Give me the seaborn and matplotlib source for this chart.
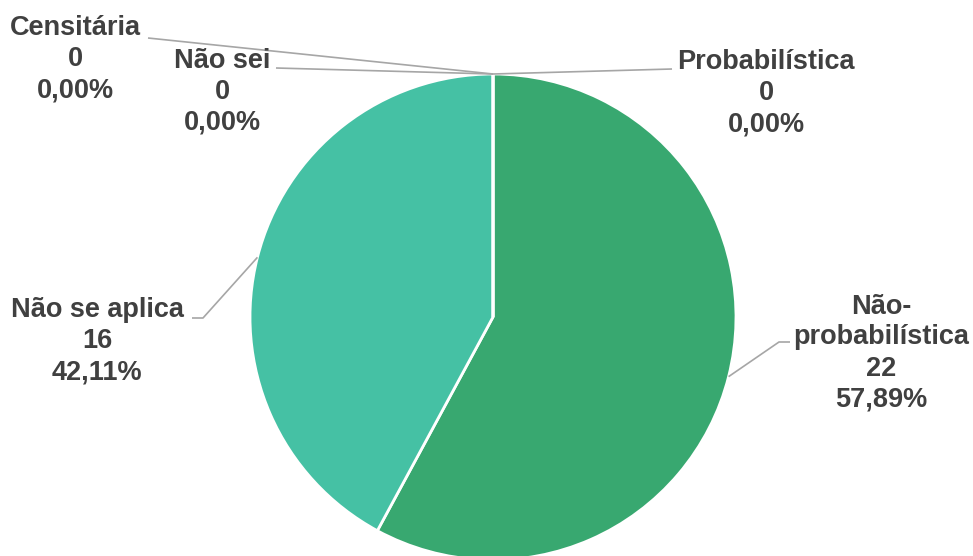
import numpy as np
import matplotlib
matplotlib.use("Agg")
import matplotlib.pyplot as plt
import seaborn as sns

# Sampling type of the studies
categorias = ["Probabilística", "Não-\nprobabilística", "Não se aplica", "Não sei", "Censitária"]
valores = [0, 22, 16, 0, 0]
cores = ["#3a9b6e", "#38a870", "#45c1a4", "#5ab0c8", "#7fa6d6"]

sns.set_theme(style="white")
plt.rcParams["font.family"] = ["Liberation Sans", "DejaVu Sans"]

W, H = 973, 556
fig = plt.figure(figsize=(W / 100, H / 100), dpi=100)
ax = fig.add_axes([0, 0, 1, 1])

def py(y):
    return H - y

cx, cy, r = 493, py(317), 243
wedges, _ = ax.pie(
    valores, colors=cores, startangle=90, counterclock=False,
    center=(cx, cy), radius=r, frame=True,
    wedgeprops=dict(edgecolor="white", linewidth=2.0),
)
ax.set_xlim(0, W)
ax.set_ylim(0, H)
ax.set_aspect("equal")
ax.axis("off")

total = sum(valores)
# label block centre and the leader path from the pie edge to the label
layout = {
    "Probabilística": dict(xy=(766, 93), stub=[(672, 69)]),
    "Não-\nprobabilística": dict(xy=(881, 353), stub=[(779, 342), (790, 342)]),
    "Não se aplica": dict(xy=(97, 341), stub=[(203, 318), (192, 318)]),
    "Não sei": dict(xy=(222, 92), stub=[(276, 68)]),
    "Censitária": dict(xy=(75, 59), stub=[(148, 38)]),
}

lead_color = "#a6a6a6"
txt_color = "#404040"
for w, nome, v in zip(wedges, categorias, valores):
    ang = np.deg2rad((w.theta1 + w.theta2) / 2)
    ax_pt = (cx + r * np.cos(ang), cy + r * np.sin(ang))
    pts = [ax_pt] + [(x, py(y)) for x, y in layout[nome]["stub"]]
    xs, ys = zip(*pts)
    ax.plot(xs, ys, color=lead_color, lw=1.2, solid_capstyle="butt", zorder=1)
    pct = f"{100 * v / total:.2f}".replace(".", ",") + "%"
    x0, y0 = layout[nome]["xy"]
    ax.text(x0, py(y0), f"{nome}\n{v}\n{pct}", ha="center", va="center",
            fontsize=19.5, fontweight="bold", color=txt_color, linespacing=1.25)

fig.savefig("out.png", dpi=100, facecolor="white")
